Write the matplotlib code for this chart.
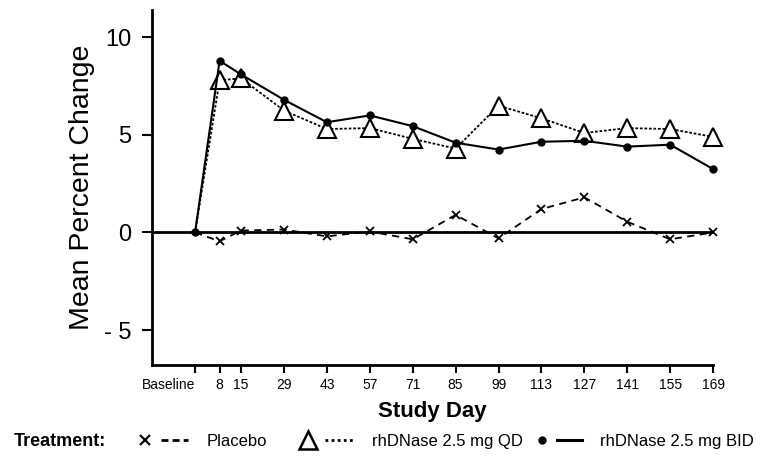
import matplotlib
matplotlib.use("Agg")
import matplotlib.pyplot as plt
from matplotlib.lines import Line2D
from matplotlib.legend_handler import HandlerTuple

plt.rcParams['font.family'] = ['Liberation Sans', 'DejaVu Sans']

# study days (baseline = day 0)
days = [0, 8, 15, 29, 43, 57, 71, 85, 99, 113, 127, 141, 155, 169]
day_labels = ['Baseline', '8', '15', '29', '43', '57', '71', '85', '99',
              '113', '127', '141', '155', '169']

placebo = [0, -0.45, 0.1, 0.15, -0.2, 0.05, -0.35, 0.9, -0.3, 1.2, 1.8, 0.55, -0.35, 0.0]
qd = [0, 7.8, 7.9, 6.25, 5.3, 5.35, 4.8, 4.3, 6.5, 5.85, 5.1, 5.35, 5.3, 4.9]
bid = [0, 8.8, 8.1, 6.8, 5.65, 6.0, 5.45, 4.6, 4.25, 4.65, 4.7, 4.4, 4.5, 3.25]

fig = plt.figure(figsize=(7.57, 4.57), dpi=100)
ax = fig.add_axes([0.201, 0.201, 0.741, 0.777])

mk = list(range(1, len(days)))
ax.plot(days, placebo, color='black', lw=1.3, ls=(0, (4, 3)),
        marker='x', ms=6, mew=1.3, markevery=mk, clip_on=False)
ax.plot(days, qd, color='black', lw=1.3, ls=(0, (1.5, 1)),
        marker='^', ms=13, mfc='white', mec='black', mew=1.5,
        markevery=mk, clip_on=False)
ax.plot(days, bid, color='black', lw=1.5, ls='-',
        marker='o', ms=5, mfc='black', clip_on=False)

ax.set_xlim(-14, 169)
ax.set_ylim(-6.8, 11.4)
ax.set_yticks([-5, 0, 5, 10])
ax.set_yticklabels(['- 5', '0', '5', '10'])
ax.set_xticks(days)
ax.set_xticklabels(day_labels, fontsize=10)
# baseline label sits left of its tick
ax.xaxis.get_major_ticks()[0].label1.set_horizontalalignment('right')
ax.tick_params(axis='y', labelsize=17, length=7, width=1.5, direction='out', pad=8)
ax.tick_params(axis='x', length=6, width=1.5, direction='out', pad=3)
for s in ['top', 'right']:
    ax.spines[s].set_visible(False)
for s in ['left', 'bottom']:
    ax.spines[s].set_linewidth(2)
ax.axhline(0, color='black', lw=2, zorder=1)

ax.set_ylabel('Mean Percent Change', fontsize=20.5, labelpad=6)
ax.set_xlabel('Study Day', fontsize=16, fontweight='bold', labelpad=7)

# legend row
fig.text(0.018, 0.035, 'Treatment:', fontsize=13, fontweight='bold', va='center')
h_pl = (Line2D([], [], ls='none', marker='x', color='black', ms=7, mew=1.5),
        Line2D([], [], color='black', lw=2, ls=(0, (2.5, 1.5))))
h_qd = (Line2D([], [], ls='none', marker='^', ms=13, mfc='white', mec='black', mew=1.8),
        Line2D([], [], color='black', lw=2, ls=(0, (1, 1.2))))
h_bid = (Line2D([], [], ls='none', marker='o', ms=5, color='black'),
         Line2D([], [], color='black', lw=2.2))
entries = [(h_pl, 'Placebo', 0.174, 3.4),
           (h_qd, 'rhDNase 2.5 mg QD', 0.388, 3.6),
           (h_bid, 'rhDNase 2.5 mg BID', 0.700, 3.1)]
for h, lab, x0, hl in entries:
    fig.legend([h], [lab],
               handler_map={tuple: HandlerTuple(ndivide=None, pad=0.1)},
               loc='center left', bbox_to_anchor=(x0, 0.035),
               frameon=False, handlelength=hl, handletextpad=1.1,
               borderaxespad=0, borderpad=0, prop={'size': 12})

fig.savefig('out.png', dpi=100)
